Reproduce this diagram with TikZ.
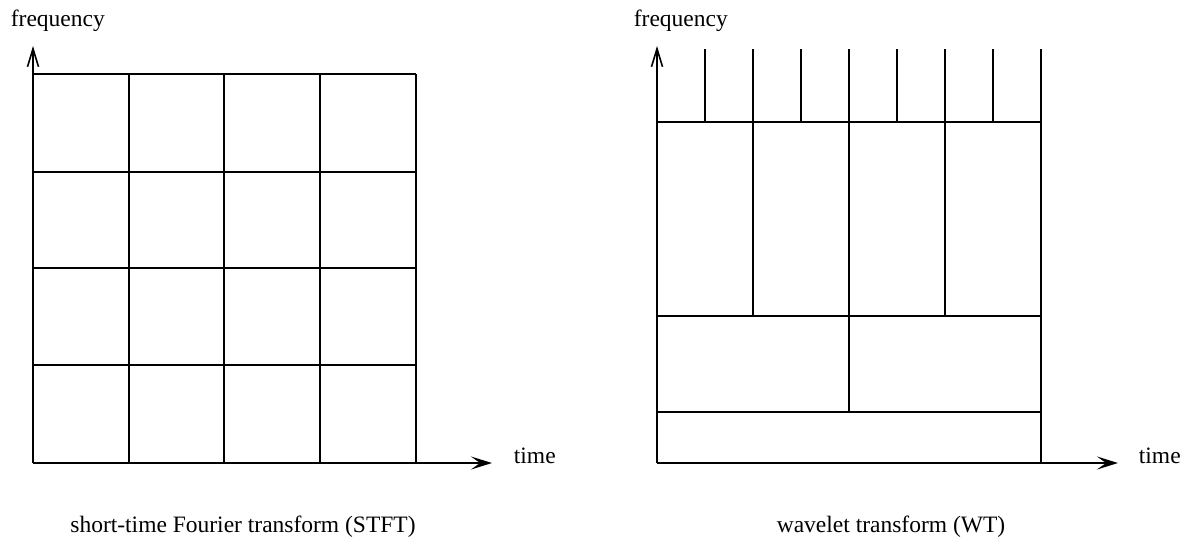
\documentclass[tikz,border=0pt]{standalone}
\usepackage{fontspec}
\setmainfont{Liberation Serif}
\usetikzlibrary{arrows.meta}
\begin{document}
\begin{tikzpicture}[x=1pt,y=-1pt,line width=1.8pt,
  haxis/.style={-{Stealth[length=21pt,width=13pt,inset=9pt]}},
  vaxis/.style={-{Straight Barb[length=18pt,width=11pt,line width=1.6pt]}},
  lbl/.style={font=\fontsize{23.5}{28}\selectfont,inner sep=0pt}]
\useasboundingbox (0,0) rectangle (1190,539);

% ---------- STFT: uniform tiling ----------
\coordinate (Lo) at (33,463);
\coordinate (Lx) at (492,463);
\coordinate (Ly) at (33,46);
\foreach \y in {74,172,268,365}
  \draw (33,\y) -- (416,\y);
\foreach \x in {129,224,320,416}
  \draw (\x,74) -- (\x,463);
\draw[vaxis] (Lo) -- (Ly);
\draw[haxis] (Lo) -- (Lx);
\node[lbl,anchor=base west] (Lf) at (10,26) {frequency};
\node[lbl,anchor=base west] (Lt) at (513,463) {time};
\node[lbl,anchor=base] (Lc) at (243,532) {short-time Fourier transform (STFT)};

% ---------- WT: dyadic tiling ----------
\coordinate (Ro) at (657,463);
\coordinate (Rx) at (1118,463);
\coordinate (Ry) at (657,46);
\foreach \y in {122,316,412}
  \draw (657,\y) -- (1041,\y);
\draw (1041,49) -- (1041,463);
\foreach \x in {705,753,801,849,897,945,993}
  \draw (\x,49) -- (\x,122);
\foreach \x in {753,849,945}
  \draw (\x,122) -- (\x,316);
\draw (849,316) -- (849,412);
\draw[vaxis] (Ro) -- (Ry);
\draw[haxis] (Ro) -- (Rx);
\node[lbl,anchor=base west] (Rf) at (633,26) {frequency};
\node[lbl,anchor=base west] (Rt) at (1138,463) {time};
\node[lbl,anchor=base] (Rc) at (891,532) {wavelet transform (WT)};
\end{tikzpicture}
\end{document}
